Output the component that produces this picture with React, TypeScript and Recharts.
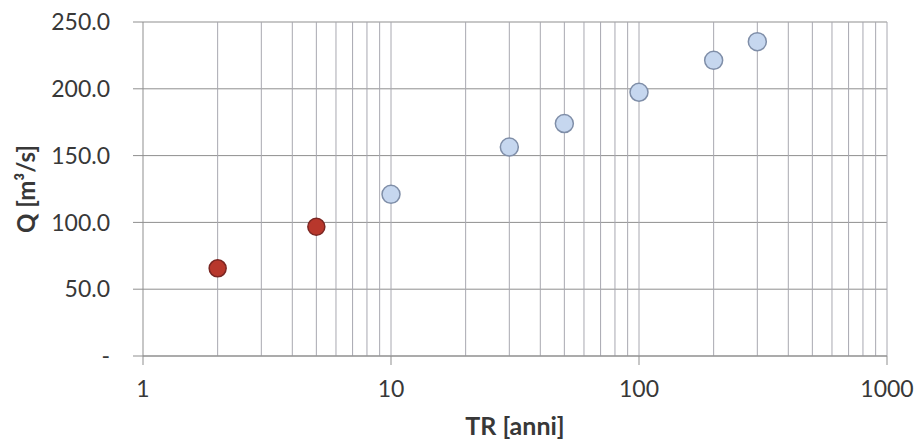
import React from 'react';
import { ScatterChart, Scatter, XAxis, YAxis, CartesianGrid, ReferenceLine, Label } from 'recharts';

const redPoints = [
  { x: 2, y: 65.6 },
  { x: 5, y: 96.8 },
];
const bluePoints = [
  { x: 10, y: 121 },
  { x: 30, y: 156.4 },
  { x: 50, y: 174 },
  { x: 100, y: 197.4 },
  { x: 200, y: 221.3 },
  { x: 300, y: 235.3 },
];
const xTicks = [1, 10, 100, 1000];
const xGrid = [2, 3, 4, 5, 6, 7, 8, 9, 10, 20, 30, 40, 50, 60, 70, 80, 90, 100, 200, 300, 400, 500, 600, 700, 800, 900, 1000];
const yTicks = [0, 50, 100, 150, 200, 250];

const FONT = 'Lato, "Open Sans", sans-serif';
const TEXT = '#383838';

const RedDot = (p: any) => (
  <circle cx={p.cx} cy={p.cy} r={8.5} fill="#b8372c" stroke="#7a2622" strokeWidth={1.5} />
);
const BlueDot = (p: any) => (
  <circle cx={p.cx} cy={p.cy} r={9} fill="#c6d7ef" stroke="#7f8ea8" strokeWidth={1.5} />
);

const YLabel = (props: any) => {
  const vb = props.viewBox || { y: 22, height: 334 };
  const cx = 25;
  const cy = vb.y + vb.height / 2;
  return (
    <text
      x={cx}
      y={cy}
      transform={`rotate(-90, ${cx}, ${cy})`}
      textAnchor="middle"
      dominantBaseline="central"
      fontFamily={FONT}
      fontWeight={700}
      fontSize={24}
      fill={TEXT}
    >
      Q [m³/s]
    </text>
  );
};

export default function App() {
  return (
    <div style={{ position: 'absolute', left: 0, top: 0, background: '#fff' }}>
      <ScatterChart width={918} height={444} margin={{ top: 22, right: 31, bottom: 0, left: 0 }}>
        <CartesianGrid vertical={false} stroke="#8f8f8f" strokeWidth={1} />
        {xGrid.map((v) => (
          <ReferenceLine key={v} x={v} stroke="#a8a8b0" strokeWidth={1} ifOverflow="extendDomain" />
        ))}
        <XAxis
          type="number"
          dataKey="x"
          scale="log"
          domain={[1, 1000]}
          ticks={xTicks}
          allowDataOverflow
          height={88}
          tickSize={9}
          tickMargin={16}
          axisLine={{ stroke: '#8f8f8f' }}
          tickLine={{ stroke: '#8f8f8f' }}
          tick={{ fontFamily: FONT, fontSize: 23, fill: TEXT }}
        >
          <Label
            value="TR [anni]"
            position="insideBottom"
            offset={9}
            style={{ fontFamily: FONT, fontWeight: 700, fontSize: 25, fill: TEXT }}
          />
        </XAxis>
        <YAxis
          type="number"
          dataKey="y"
          domain={[0, 250]}
          ticks={yTicks}
          width={143}
          tickSize={10}
          tickMargin={23}
          axisLine={{ stroke: '#8f8f8f' }}
          tickLine={{ stroke: '#8f8f8f' }}
          tickFormatter={(v: number) => (v === 0 ? '-' : v.toFixed(1))}
          tick={{ fontFamily: FONT, fontSize: 23, fill: TEXT }}
          label={<YLabel />}
        />
        <Scatter data={redPoints} shape={RedDot} isAnimationActive={false} />
        <Scatter data={bluePoints} shape={BlueDot} isAnimationActive={false} />
      </ScatterChart>
    </div>
  );
}
